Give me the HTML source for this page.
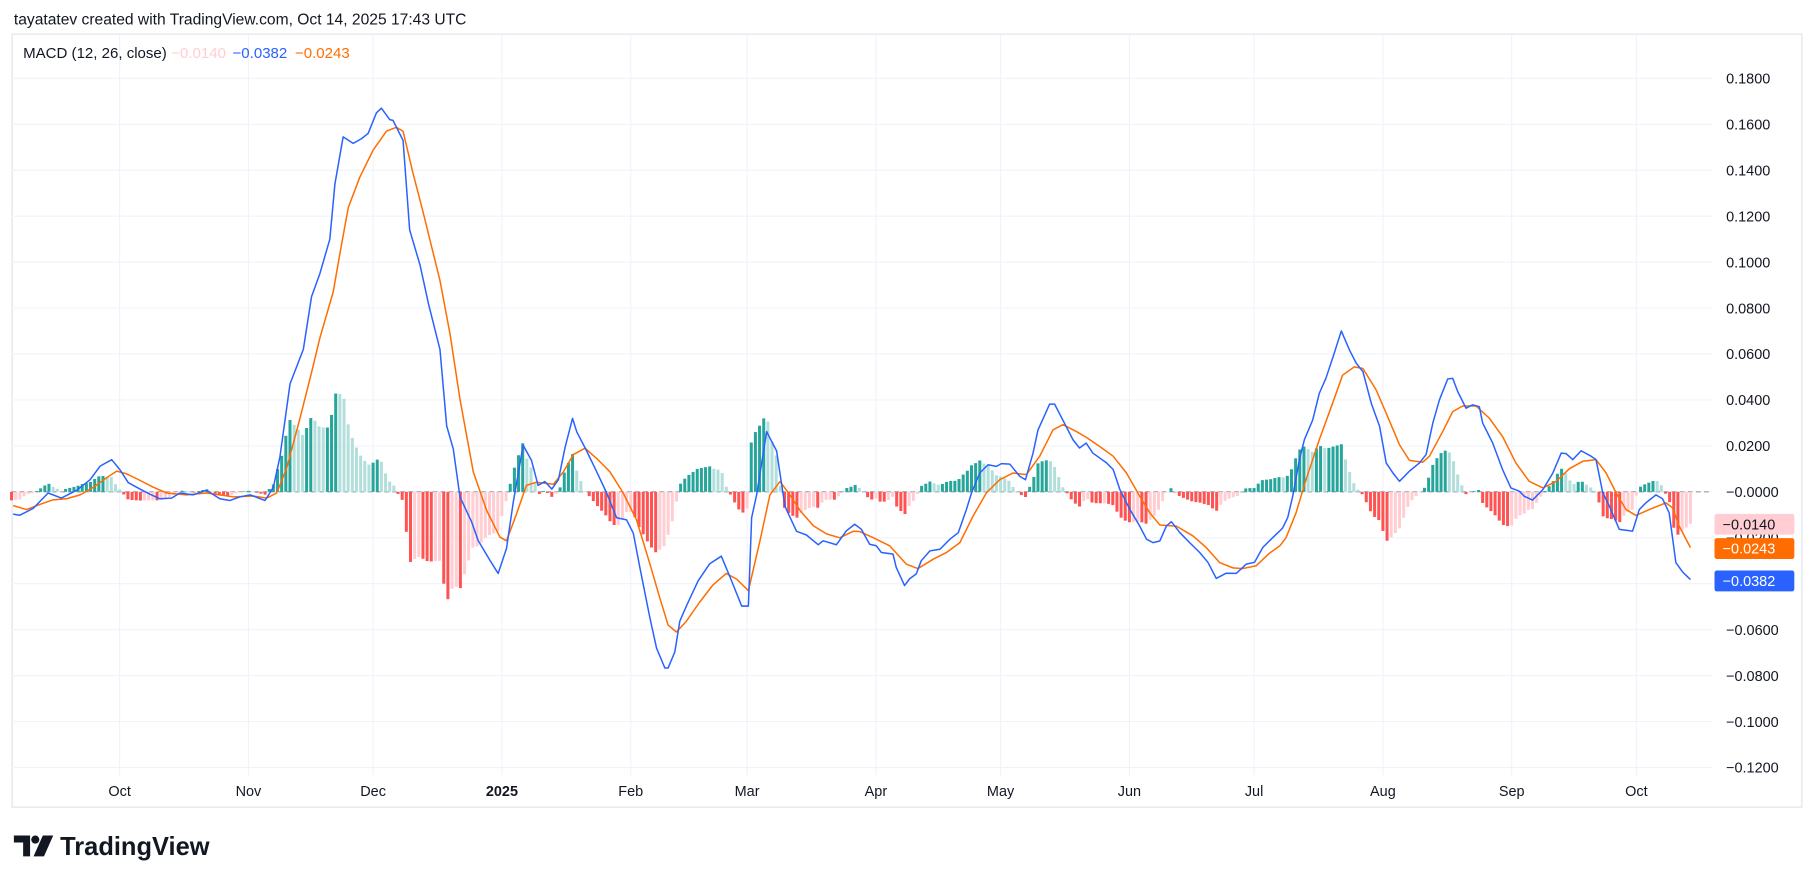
<!DOCTYPE html>
<html><head><meta charset="utf-8">
<style>
html,body{margin:0;padding:0;background:#fff;}
svg{display:block;font-family:"Liberation Sans",sans-serif;}
</style></head>
<body>
<svg id="chart" width="1814" height="883" viewBox="0 0 1568 763" preserveAspectRatio="none" xmlns="http://www.w3.org/2000/svg">
<rect x="0" y="0" width="1568" height="763" fill="#ffffff"/>
<text x="12" y="21" font-size="13.5" fill="#131722">tayatatev created with TradingView.com, Oct 14, 2025 17:43 UTC</text>
<rect x="10.5" y="29.5" width="1547" height="668" fill="none" stroke="#e0e3eb" stroke-width="1"/>
<g id="grid"></g>
<g id="hist"></g>
<g id="lines"></g>
<g id="yaxis"></g>
<g id="xaxis"></g>
<g font-size="13">
  <text x="20" y="50" fill="#131722">MACD (12, 26, close)</text>
  <text x="148" y="50" fill="#ffcdd2">−0.0140</text>
  <text x="201" y="50" fill="#2962ff">−0.0382</text>
  <text x="255" y="50" fill="#ff6d00">−0.0243</text>
</g>
<g>
  <path d="M12 722 h14 v18 h-6 v-12 h-8 z" fill="#131722"/>
  <circle cx="30.5" cy="725.5" r="3.5" fill="#131722"/>
  <path d="M37 722 h9 l-8 18 h-9 z" fill="#131722"/>
  <text x="52" y="739" font-size="22" font-weight="bold" fill="#131722">TradingView</text>
</g>
</svg>
<script>
// ---- data (day index from 2024-09-05, value) ----
const macdDays = [0.4,2.0,5.2,8.8,12.0,15.7,18.9,21.3,24.1,26.1,28.1,30.9,33.3,35.7,38.5,40.5,43.7,46.9,50.1,52.5,54.9,57.4,61,63,64.6,67,70.2,72.2,74.2,76.6,77.8,79.8,82.2,84.2,85.8,87.8,89,91,91.8,94.2,95.8,98.3,100.3,103.1,104.7,106.3,107.9,110.7,112.3,115.1,117.1,119.1,120.7,123.1,125.1,126.7,128.3,130,131.6,133.2,135,136,138.4,140.8,143.2,145.6,148,149.6,151.2,153.6,155.2,157.2,158,159.6,160.8,162.4,165.2,168,170.8,172.9,175.7,177.3,178.1,179.3,181.7,184.1,186.1,188.9,191.3,194.1,195.3,198.5,200.9,202.9,204.5,206.5,208.1,209.3,212.1,212.9,214.9,216.1,217.7,218.9,221,223.4,225.8,227.8,229.8,231,233,235,237,238.2,240.2,242.6,244,245.8,247,249.8,251,253.8,255.4,257,258.6,260.2,263.5,265.1,266.7,269.1,271.5,273.1,274.7,276.3,277.9,279.1,281.1,283.5,285.9,287.9,289.9,292.3,294.7,297.1,299.1,301.1,303.5,305.2,305.9,307.1,308.3,309.9,311.1,313.1,314.7,316.3,318,320,322,323.6,325.2,327.2,329.2,330.8,332.4,334,336.4,338.8,340.4,342,343.6,345.6,346.8,348,350,351.6,353.2,354,356.4,358.8,360.8,362.8,364,366,368.5,370.9,372.9,374.1,375.7,377.7,380.1,381.3,382.9,384.5,386.9,390.1,391.7,393.3,395.7,397.3,398.9,400.5,402.1,404];
const macdValues = [-0.0097,-0.0102,-0.0072,-0.0005,-0.0027,0.0007,0.0053,0.0112,0.014,0.0095,0.004,0.0012,-0.001,-0.003,-0.0027,-0.0005,-0.0013,0.0007,-0.003,-0.0038,-0.0022,-0.0013,-0.0038,0.002,0.0153,0.047,0.062,0.085,0.095,0.110,0.134,0.1545,0.1517,0.1537,0.156,0.165,0.167,0.162,0.1617,0.153,0.114,0.0987,0.082,0.062,0.0287,0.0187,-0.0022,-0.013,-0.0213,-0.0297,-0.0355,-0.0247,-0.0047,0.0203,0.0137,0.0028,0.0045,0.0012,0.0053,0.0195,0.032,0.0262,0.0178,0.0087,-0.0005,-0.0113,-0.0122,-0.018,-0.033,-0.0547,-0.068,-0.0767,-0.0767,-0.0697,-0.0563,-0.0497,-0.0388,-0.0313,-0.028,-0.0372,-0.0497,-0.0497,-0.0113,-0.0013,0.0262,0.0178,-0.0063,-0.0172,-0.0188,-0.023,-0.0213,-0.023,-0.017,-0.0141,-0.0163,-0.0228,-0.0235,-0.0264,-0.0271,-0.0329,-0.0408,-0.0379,-0.0357,-0.03,-0.0257,-0.025,-0.0206,-0.0178,-0.0076,-0.0004,0.0082,0.0118,0.0111,0.0123,0.0121,0.0068,0.0053,0.0168,0.0269,0.0382,0.0382,0.0284,0.0227,0.0191,0.0212,0.0169,0.0126,0.0097,0.001,-0.0076,-0.0149,-0.0206,-0.0221,-0.0214,-0.0149,-0.013,-0.0177,-0.0221,-0.0264,-0.0307,-0.0377,-0.0354,-0.0355,-0.0315,-0.0307,-0.0242,-0.0199,-0.017,-0.0156,-0.0112,-0.0019,0.0140,0.0227,0.0313,0.0429,0.0494,0.0588,0.0700,0.0616,0.0559,0.0523,0.0386,0.0285,0.0126,0.0082,0.0046,0.0090,0.0126,0.0162,0.0299,0.0400,0.0491,0.0494,0.0437,0.0364,0.0379,0.0371,0.0299,0.0213,0.0097,0.0017,0.0003,-0.0019,-0.0036,0.0010,0.0082,0.0169,0.0166,0.0140,0.0179,0.0155,0.0140,-0.0004,-0.0062,-0.0163,-0.0171,-0.0077,-0.0048,-0.0013,-0.0030,-0.0091,-0.0308,-0.0348,-0.0382];
const signalDays = [0.4,3.6,6.8,10,13.2,16.5,19.7,22.9,25.3,27.7,30.9,34.1,37.3,42.1,46.9,50.1,53.4,58.2,61.4,63.8,66.2,69.4,72.2,74.2,77.4,79,81,83.8,87,90.2,92.6,94.2,96.6,99,100.7,103.1,105.5,107.9,111.1,114.3,117.5,119.1,121.5,123.9,126.3,130.4,132.8,135.2,138,140.8,144,147.2,150.4,153.6,156,158,160,162.4,165.6,168.8,172,174.5,177.3,180.1,182.5,184.9,187.3,189.7,192.9,196.1,199.3,202.5,204.1,207.3,211.3,215.3,218.1,221.8,225,228.2,231.4,234.6,237.8,241,244.2,247.4,250.6,253,256.2,258.6,261.8,265.1,268.3,271.5,273.9,276.3,280.3,284.3,287.5,290.7,293.9,296.3,299.5,302.7,305.2,306.7,309.1,311.5,314.7,317.9,320.3,323.1,325.2,328.4,330.8,334,336.4,339.6,341.2,344.4,346.8,349.2,352.4,355.6,358.8,362,365.2,368.5,371.7,374.9,378.1,381.3,383.7,386.1,388.5,390.9,394.1,398.1,399.7,401.3,404];
const signalValues = [-0.006,-0.0077,-0.0055,-0.0035,-0.003,-0.0013,0.002,0.0062,0.009,0.0078,0.005,0.002,-0.0005,-0.0013,-0.0005,-0.0013,-0.0022,-0.0018,-0.0027,-0.0005,0.0103,0.032,0.052,0.067,0.087,0.1037,0.1237,0.137,0.1487,0.157,0.1587,0.157,0.1387,0.122,0.1095,0.092,0.0687,0.0403,0.0087,-0.008,-0.0197,-0.0213,-0.0097,0.0028,0.0042,0.0033,0.0087,0.0162,0.019,0.0145,0.0087,-0.0005,-0.0122,-0.0313,-0.0463,-0.058,-0.061,-0.0563,-0.048,-0.0405,-0.0355,-0.038,-0.043,-0.0213,-0.0013,0.0045,-0.0013,-0.008,-0.0147,-0.0183,-0.02,-0.0172,-0.0173,-0.0199,-0.0235,-0.0315,-0.0334,-0.0293,-0.0264,-0.0221,-0.0105,-0.0004,0.0053,0.0082,0.0075,0.0155,0.027,0.0292,0.0263,0.0238,0.0198,0.0155,0.0082,-0.0019,-0.0091,-0.0144,-0.0149,-0.0192,-0.0243,-0.0308,-0.0331,-0.0334,-0.0322,-0.0267,-0.0235,-0.0199,-0.0091,0.0053,0.0227,0.0386,0.0508,0.0544,0.0537,0.0443,0.0342,0.0205,0.0137,0.0129,0.0155,0.0263,0.0349,0.0374,0.0374,0.0321,0.0241,0.0126,0.0046,0.0017,0.0046,0.0101,0.0133,0.014,0.0082,-0.0004,-0.0077,-0.0103,-0.0077,-0.0048,-0.0069,-0.0149,-0.0243];
const yTicks = [0.18,0.16,0.14,0.12,0.10,0.08,0.06,0.04,0.02,0,-0.02,-0.04,-0.06,-0.08,-0.10,-0.12];
const monthLabels = ["Oct","Nov","Dec","2025","Feb","Mar","Apr","May","Jun","Jul","Aug","Sep","Oct"];
const monthDays = [26,57,87,118,149,177,208,238,269,299,330,361,391];
const lastDay = 404;

// ---- axes ----
const NS = "http://www.w3.org/2000/svg";
const PL = 10, PR = 1480;
function xOf(d){ return 10 + d * 3.592; }
function yOf(v){ return 425 - v * 1985; }
function mk(tag, attrs, parent){ const e=document.createElementNS(NS,tag); for(const k in attrs) e.setAttribute(k,attrs[k]); parent.appendChild(e); return e; }
function fmt(v){ const s=Math.abs(v).toFixed(4); return (v<=0 && v!==0? "−" : (v===0?"−":"")) + s; }

const grid=document.getElementById('grid');
const yaxis=document.getElementById('yaxis');
yTicks.forEach(v=>{
  const gl=mk('line',{x1:PL,x2:PR,y1:yOf(v),y2:yOf(v),stroke:'#f0f3fa','stroke-width':1},grid);
  
  
  const t=mk('text',{x:1492,y:yOf(v)+4.5,'font-size':12.5,fill:'#131722'},yaxis);
  t.textContent = fmt(v);
  
  
});
const xaxis=document.getElementById('xaxis');
monthDays.forEach((d,i)=>{
  const gl=mk('line',{x1:xOf(d),x2:xOf(d),y1:30,y2:670,stroke:'#f0f3fa','stroke-width':1},grid);
  
  
  const t=mk('text',{x:xOf(d),y:688,'font-size':12.5,fill:'#131722','text-anchor':'middle','font-weight':monthLabels[i]==='2025'?'bold':'normal'},xaxis);
  t.textContent=monthLabels[i];
  
  
});
const zl=mk('line',{x1:PL,x2:PR,y1:yOf(0),y2:yOf(0),stroke:'#9598a1','stroke-width':1,'stroke-dasharray':'4,3'},grid);



// ---- series ----
function interp(days, vals, d){
  if(d<=days[0]) return vals[0];
  for(let i=1;i<days.length;i++){ if(d<=days[i]){ const t=(d-days[i-1])/(days[i]-days[i-1]); return vals[i-1]+t*(vals[i]-vals[i-1]); } }
  return vals[vals.length-1];
}
const hist=document.getElementById('hist');
let prev=0;
for(let d=0; d<=lastDay; d++){
  const h = interp(macdDays,macdValues,d) - interp(signalDays,signalValues,d);
  let col;
  if(h>=0) col = h>prev ? '#26a69a' : '#b2dfdb'; else col = h<prev ? '#ff5252' : '#ffcdd2';
  const y0=yOf(0), y1=yOf(h);
  const r=mk('rect',{x:xOf(d)-1.3,y:Math.min(y0,y1),width:2.6,height:Math.max(0.5,Math.abs(y1-y0)),fill:col},hist);
  
  
  prev=h;
}
const lines=document.getElementById('lines');
function pathOf(days, vals){ return days.map((d,i)=>(i?'L':'M')+xOf(d).toFixed(1)+' '+yOf(vals[i]).toFixed(1)).join(' '); }
const sp=mk('path',{d:pathOf(signalDays,signalValues),fill:'none',stroke:'#ff6d00','stroke-width':1.3,'stroke-linejoin':'round'},lines);


const mp=mk('path',{d:pathOf(macdDays,macdValues),fill:'none',stroke:'#2962ff','stroke-width':1.3,'stroke-linejoin':'round'},lines);



// ---- last value badges ----
const badges=[[-0.0140,'#ffcdd2','#131722','histogram-value-badge'],[-0.0243,'#ff6d00','#ffffff','signal-value-badge'],[-0.0382,'#2962ff','#ffffff','macd-value-badge']];
const bY=[453,474,502];
badges.forEach((b,i)=>{
  const g=mk('g',{},yaxis);
  
  
  mk('rect',{x:1482,y:bY[i]-9,width:69,height:18,rx:2,fill:b[1]},g);
  const t=mk('text',{x:1489,y:bY[i]+4.5,'font-size':12.5,fill:b[2]},g);
  t.textContent=fmt(b[0]);
});
</script>
</body></html>
